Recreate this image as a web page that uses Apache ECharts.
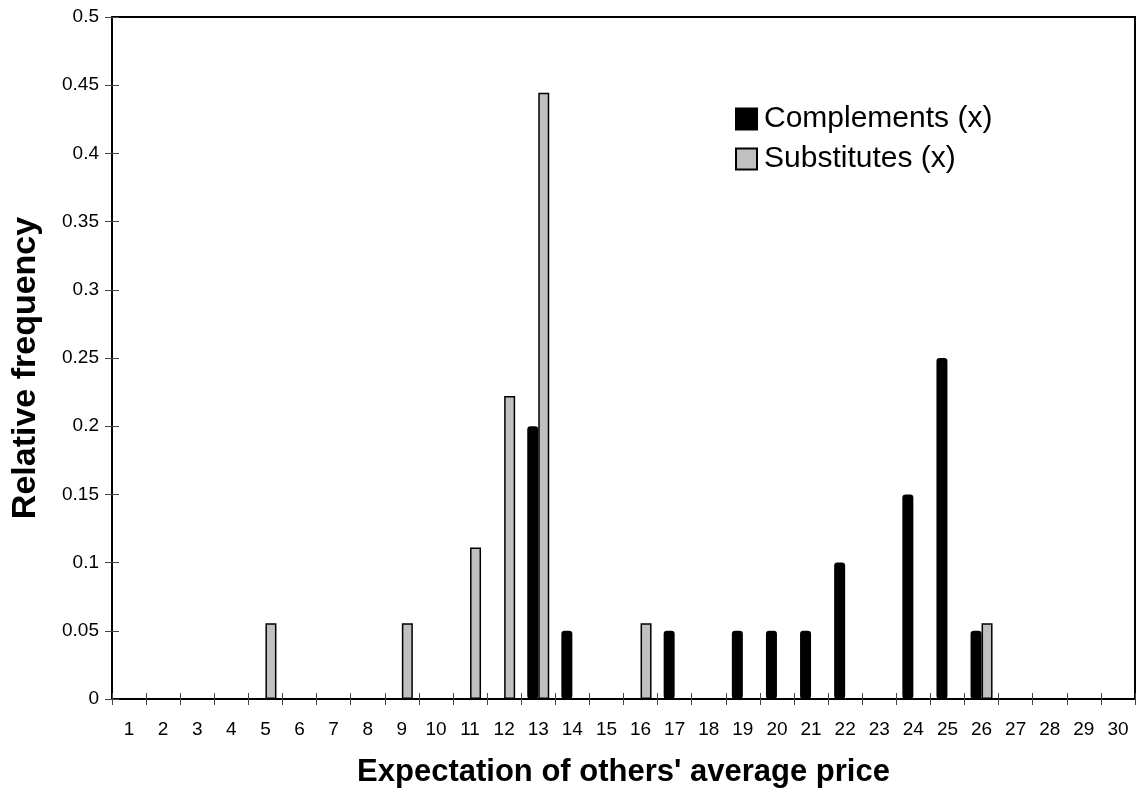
<!DOCTYPE html>
<html>
<head>
<meta charset="utf-8">
<script src="https://cdn.jsdelivr.net/npm/echarts@6/dist/echarts.min.js"></script>
<style>
html,body{margin:0;padding:0;background:#fff;}
#chart{width:1137px;height:795px;}
</style>
</head>
<body>
<div id="chart"></div>
<script>
const categories = ['1','2','3','4','5','6','7','8','9','10','11','12','13','14','15','16','17','18','19','20','21','22','23','24','25','26','27','28','29','30'];
const complements = [0,0,0,0,0,0,0,0,0,0,0,0,0.2,0.05,0,0,0.05,0,0.05,0.05,0.05,0.1,0,0.15,0.25,0.05,0,0,0,0];
const substitutes = [0,0,0,0,0.0556,0,0,0,0.0556,0,0.1111,0.2222,0.4444,0,0,0.0556,0,0,0,0,0,0,0,0,0,0.0556,0,0,0,0];
const yTicks = {min:0, max:0.5, interval:0.05};

// zero-height bars are not drawn (avoid border stubs on the baseline)
const hideZero = arr => arr.map(v => v === 0 ? '-' : v);

const FONT = '"Liberation Sans", Arial, sans-serif';
const chart = echarts.init(document.getElementById('chart'));
const gridPos = {left:112, right:2, top:17, bottom:96, outerBoundsMode:'none', containLabel:false};
chart.setOption({
  animation:false,
  backgroundColor:'#fff',
  textStyle:{fontFamily:FONT},
  grid:[{...gridPos, show:true, borderColor:'#000', borderWidth:2},
        {...gridPos, show:false}],
  legend:{
    orient:'vertical', left:730, top:99, itemWidth:21, itemHeight:21, itemGap:10,
    icon:'rect',
    textStyle:{fontFamily:FONT, fontSize:30, color:'#000', padding:[0,0,0,2]},
    data:['Complements (x)','Substitutes (x)']
  },
  graphic:[{
    type:'text', x:26, y:368, rotation:Math.PI/2,
    style:{text:'Relative frequency', fontFamily:FONT, fontSize:34, fontWeight:'bold', fill:'#000',
           textAlign:'center', textVerticalAlign:'middle'}
  }],
  xAxis:[{
    type:'category', data:categories, gridIndex:0,
    axisLine:{lineStyle:{color:'#000', width:2}},
    axisTick:{show:true, length:6, lineStyle:{color:'#444', width:1}},
    axisLabel:{color:'#000', fontSize:19, fontFamily:FONT, margin:21},
    name:"Expectation of others' average price", nameLocation:'middle', nameGap:58,
    nameTextStyle:{fontFamily:FONT, fontSize:31, fontWeight:'bold', color:'#000'}
  },{
    type:'category', data:categories, gridIndex:1, position:'bottom',
    axisLine:{show:false},
    axisTick:{show:true, inside:true, length:6, lineStyle:{color:'#444', width:1}},
    axisLabel:{show:false}
  }],
  yAxis:[{
    type:'value', gridIndex:0, min:yTicks.min, max:yTicks.max, interval:yTicks.interval,
    splitLine:{show:false},
    axisLine:{show:true, lineStyle:{color:'#000', width:2}},
    axisTick:{show:true, length:7, lineStyle:{color:'#444', width:1}},
    axisLabel:{color:'#000', fontSize:19, fontFamily:FONT, margin:13}
  },{
    type:'value', gridIndex:1, min:yTicks.min, max:yTicks.max, interval:yTicks.interval,
    splitLine:{show:false}, axisLine:{show:false},
    axisTick:{show:true, inside:true, length:7, lineStyle:{color:'#444', width:1}},
    axisLabel:{show:false}
  }],
  series:[{
    name:'Complements (x)', type:'bar', data:hideZero(complements), barWidth:11, barGap:'0%',
    itemStyle:{color:'#000', borderColor:'#000', borderWidth:2.5, borderRadius:2}
  },{
    name:'Substitutes (x)', type:'bar', data:hideZero(substitutes), barWidth:11, barGap:'0%',
    itemStyle:{color:'#c0c0c0', borderColor:'#000', borderWidth:1.5}
  }]
});
</script>
</body>
</html>
